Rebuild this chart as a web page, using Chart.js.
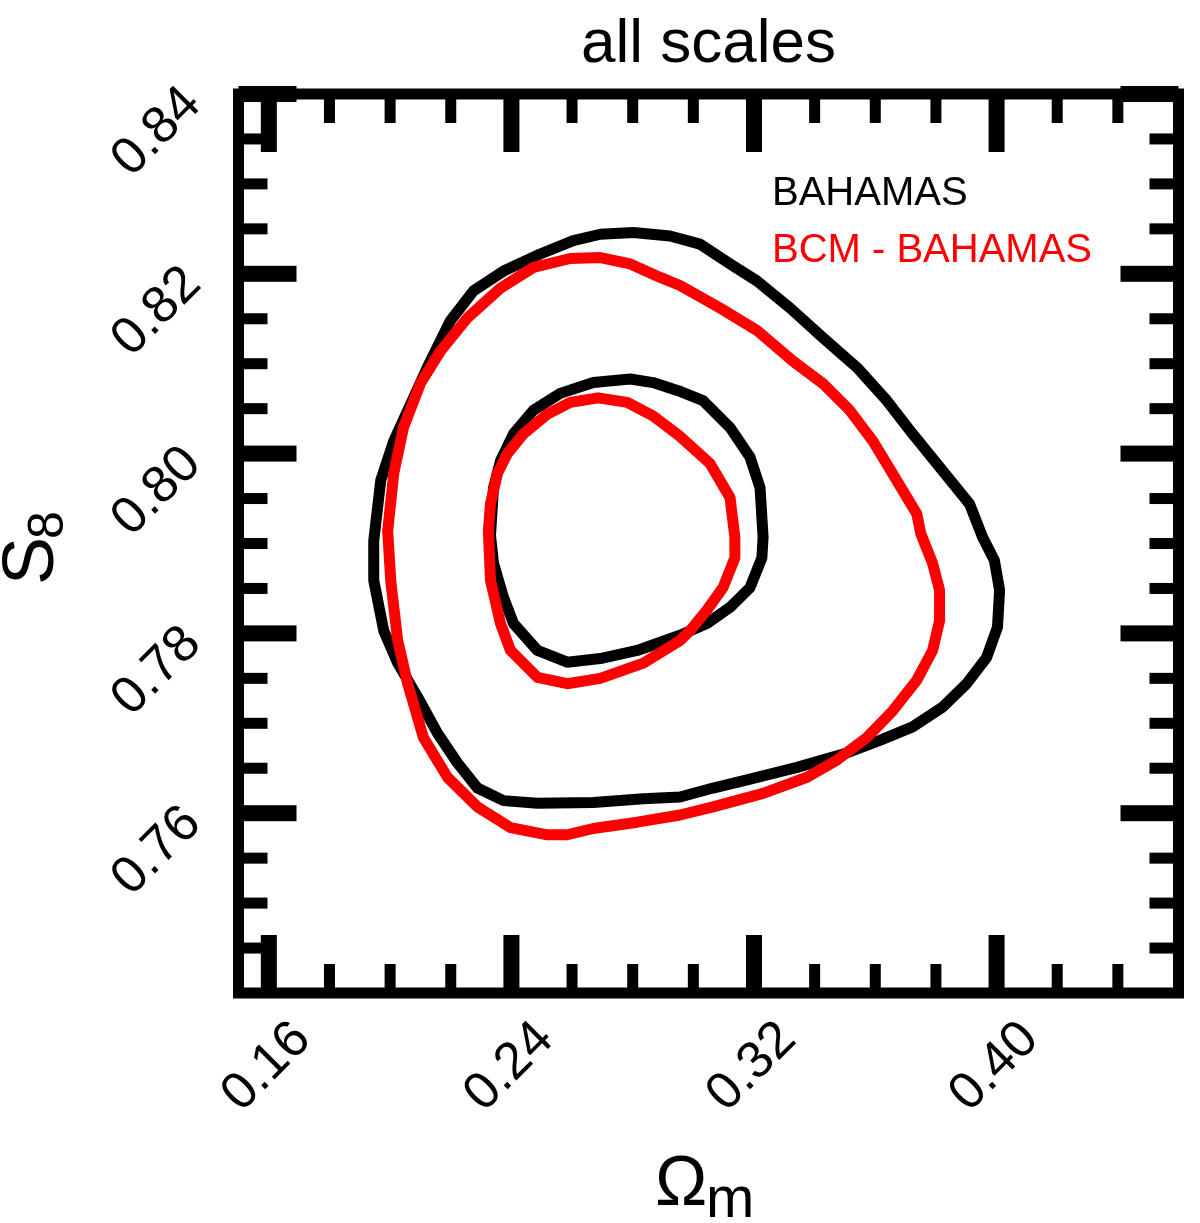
<!DOCTYPE html>
<html><head><meta charset="utf-8">
<script src="https://cdn.jsdelivr.net/npm/chart.js@4.4.1/dist/chart.umd.min.js"></script>
<style>html,body{margin:0;padding:0;background:#fff;}canvas{display:block;}</style>
</head><body>
<canvas id="c" width="1200" height="1223"></canvas>
<script>
// ---- text ----
const titleText = 'all scales';
const xAxisTitle = 'Ω', xAxisSub = 'm';
const yAxisTitle = 'S', yAxisSub = '8';
const seriesNames = ['BAHAMAS', 'BCM - BAHAMAS'];
const seriesColors = ['#000000', '#ff0000'];

// ---- axes ----
const xMin = 0.15, xMax = 0.46, yMin = 0.74, yMax = 0.84;
const xMajorTicks = [0.16, 0.24, 0.32, 0.40];
const xTickLabels = ['0.16', '0.24', '0.32', '0.40'];
const xMinorTicks = [0.18, 0.20, 0.22, 0.26, 0.28, 0.30, 0.34, 0.36, 0.38, 0.42, 0.44];
const yMajorTicks = [0.76, 0.78, 0.80, 0.82, 0.84];
const yTickLabels = ['0.76', '0.78', '0.80', '0.82', '0.84'];
const yMinorTicks = [0.745, 0.750, 0.755, 0.765, 0.770, 0.775, 0.785, 0.790, 0.795,
                     0.805, 0.810, 0.815, 0.825, 0.830, 0.835];

// ---- contours (Omega_m, S8) ----
const bahamasOuterX = [0.2693,0.2802,0.2923,0.3022,0.3121,0.3210,0.3319,0.3427,0.3539,0.3638,0.3723,0.3822,0.3911,0.3954,0.3993,0.4010,0.4003,0.3967,0.3901,0.3822,0.3723,0.3615,0.3506,0.3342,0.3177,0.3065,0.2956,0.2835,0.2670,0.2486,0.2374,0.2288,0.2222,0.2156,0.2091,0.2025,0.1979,0.1946,0.1946,0.1969,0.2012,0.2058,0.2123,0.2199,0.2275,0.2374,0.2495,0.2604];
const bahamasOuterY = [0.8244,0.8246,0.8242,0.8233,0.8211,0.8192,0.8162,0.8129,0.8096,0.8059,0.8022,0.7981,0.7944,0.7907,0.7881,0.7848,0.7807,0.7773,0.7744,0.7718,0.7696,0.7681,0.7667,0.7651,0.7637,0.7628,0.7618,0.7616,0.7612,0.7611,0.7614,0.7628,0.7656,0.7689,0.7729,0.7767,0.7803,0.7859,0.7903,0.7970,0.8014,0.8048,0.8096,0.8148,0.8181,0.8203,0.8222,0.8237];
const bahamasInnerX = [0.2561,0.2670,0.2792,0.2867,0.2950,0.3032,0.3121,0.3187,0.3220,0.3230,0.3226,0.3187,0.3121,0.3045,0.2956,0.2815,0.2693,0.2584,0.2486,0.2407,0.2374,0.2341,0.2331,0.2341,0.2364,0.2407,0.2472];
const bahamasInnerY = [0.8067,0.8079,0.8083,0.8079,0.8070,0.8059,0.8029,0.7996,0.7962,0.7907,0.7884,0.7851,0.7829,0.7811,0.7798,0.7781,0.7772,0.7768,0.7781,0.7811,0.7840,0.7878,0.7909,0.7962,0.7992,0.8022,0.8048];
const bcmOuterX = [0.2594,0.2693,0.2792,0.2891,0.2956,0.3088,0.3210,0.3328,0.3427,0.3516,0.3592,0.3671,0.3737,0.3750,0.3789,0.3812,0.3812,0.3789,0.3737,0.3658,0.3572,0.3473,0.3375,0.3230,0.3065,0.2956,0.2815,0.2670,0.2584,0.2519,0.2397,0.2288,0.2189,0.2110,0.2058,0.2025,0.2002,0.1992,0.2012,0.2044,0.2100,0.2166,0.2255,0.2364,0.2472];
const bcmOuterY = [0.8217,0.8218,0.8211,0.8196,0.8187,0.8162,0.8137,0.8103,0.8078,0.8048,0.8014,0.7970,0.7933,0.7911,0.7878,0.7848,0.7814,0.7781,0.7748,0.7714,0.7684,0.7659,0.7640,0.7622,0.7607,0.7598,0.7590,0.7583,0.7576,0.7576,0.7584,0.7607,0.7640,0.7684,0.7744,0.7792,0.7859,0.7914,0.7978,0.8029,0.8078,0.8114,0.8151,0.8184,0.8207];
const bcmInnerX = [0.2519,0.2594,0.2686,0.2782,0.2867,0.2953,0.3055,0.3121,0.3137,0.3137,0.3098,0.3045,0.2989,0.2956,0.2835,0.2693,0.2584,0.2486,0.2397,0.2364,0.2331,0.2324,0.2331,0.2354,0.2387,0.2440];
const bcmInnerY = [0.8044,0.8057,0.8062,0.8057,0.8042,0.8020,0.7989,0.7951,0.7907,0.7884,0.7851,0.7826,0.7803,0.7792,0.7767,0.7750,0.7744,0.7751,0.7781,0.7811,0.7859,0.7914,0.7944,0.7978,0.8000,0.8022];

function closed(xs, ys) {
  const pts = xs.map((x, i) => ({ x: x, y: ys[i] }));
  pts.push({ x: xs[0], y: ys[0] });
  return pts;
}
function contour(xs, ys, color, order) {
  return { data: closed(xs, ys), showLine: true, borderColor: color, backgroundColor: color,
           borderWidth: 11, pointRadius: 0, pointHoverRadius: 0, fill: false, tension: 0,
           borderJoinStyle: 'round', borderCapStyle: 'round', order: order };
}

const FONT = '"Liberation Sans", Arial, Helvetica, sans-serif';

const framePlugin = {
  id: 'frame',
  afterDraw(chart) {
    const ctx = chart.ctx, xs = chart.scales.x, ys = chart.scales.y;
    const L = xs.getPixelForValue(xMin), R = xs.getPixelForValue(xMax);
    const T = ys.getPixelForValue(yMax), B = ys.getPixelForValue(yMin);
    ctx.save();
    ctx.fillStyle = '#000'; ctx.strokeStyle = '#000';
    ctx.lineWidth = 11; ctx.lineJoin = 'miter';
    ctx.strokeRect(L, T, R - L, B - T);
    const MAJ = 58, MIN = 29, MAJW = 16, MINW = 11;
    function xt(v, len, w) {
      const p = xs.getPixelForValue(v);
      ctx.fillRect(p - w / 2, B - len, w, len);
      ctx.fillRect(p - w / 2, T, w, len);
    }
    function yt(v, len, w) {
      const p = ys.getPixelForValue(v);
      ctx.fillRect(L, p - w / 2, len, w);
      ctx.fillRect(R - len, p - w / 2, len, w);
    }
    xMinorTicks.forEach(v => xt(v, MIN, MINW));
    xMajorTicks.forEach(v => xt(v, MAJ, MAJW));
    yMinorTicks.forEach(v => yt(v, MIN, MINW));
    yMajorTicks.forEach(v => yt(v, MAJ, MAJW));

    // tick labels
    ctx.font = '52px ' + FONT;
    ctx.textAlign = 'center'; ctx.textBaseline = 'middle';
    xMajorTicks.forEach((v, i) => {
      const p = xs.getPixelForValue(v);
      ctx.save(); ctx.translate(p - 2, B + 74); ctx.rotate(-Math.PI / 4);
      ctx.fillText(xTickLabels[i], 0, 0); ctx.restore();
    });
    yMajorTicks.forEach((v, i) => {
      const p = ys.getPixelForValue(v);
      ctx.save(); ctx.translate(L - 81.5, p + 38); ctx.rotate(-Math.PI / 4);
      ctx.fillText(yTickLabels[i], 0, 0); ctx.restore();
    });

    // title
    ctx.textBaseline = 'alphabetic';
    ctx.font = '62px ' + FONT;
    ctx.fillText(titleText, (L + R) / 2, 62);

    // legend
    ctx.textAlign = 'left';
    ctx.font = '40px ' + FONT;
    ctx.fillStyle = seriesColors[0]; ctx.fillText(seriesNames[0], 772, 205);
    ctx.fillStyle = seriesColors[1]; ctx.fillText(seriesNames[1], 772, 262);

    // axis titles
    ctx.fillStyle = '#000';
    ctx.font = '70px ' + FONT;
    ctx.fillText(xAxisTitle, 655, 1205);
    ctx.font = '58px ' + FONT;
    ctx.fillText(xAxisSub, 706, 1217);

    ctx.save();
    ctx.translate(53, 585); ctx.rotate(-Math.PI / 2);
    ctx.font = '72px ' + FONT;
    ctx.fillText(yAxisTitle, 0, 0);
    ctx.font = '50px ' + FONT;
    ctx.fillText(yAxisSub, 46, 10);
    ctx.restore();

    ctx.restore();
  }
};

new Chart(document.getElementById('c'), {
  type: 'scatter',
  data: {
    datasets: [
      contour(bcmOuterX, bcmOuterY, seriesColors[1], 1),
      contour(bcmInnerX, bcmInnerY, seriesColors[1], 1),
      contour(bahamasOuterX, bahamasOuterY, seriesColors[0], 2),
      contour(bahamasInnerX, bahamasInnerY, seriesColors[0], 2)
    ]
  },
  options: {
    responsive: false, animation: false, devicePixelRatio: 1,
    layout: { padding: { left: 238.5, right: 21.5, top: 94, bottom: 230 } },
    plugins: { legend: { display: false }, tooltip: { enabled: false }, title: { display: false } },
    scales: {
      x: { type: 'linear', min: xMin, max: xMax, display: false },
      y: { type: 'linear', min: yMin, max: yMax, display: false }
    },
    events: []
  },
  plugins: [framePlugin]
});
</script>
</body></html>
